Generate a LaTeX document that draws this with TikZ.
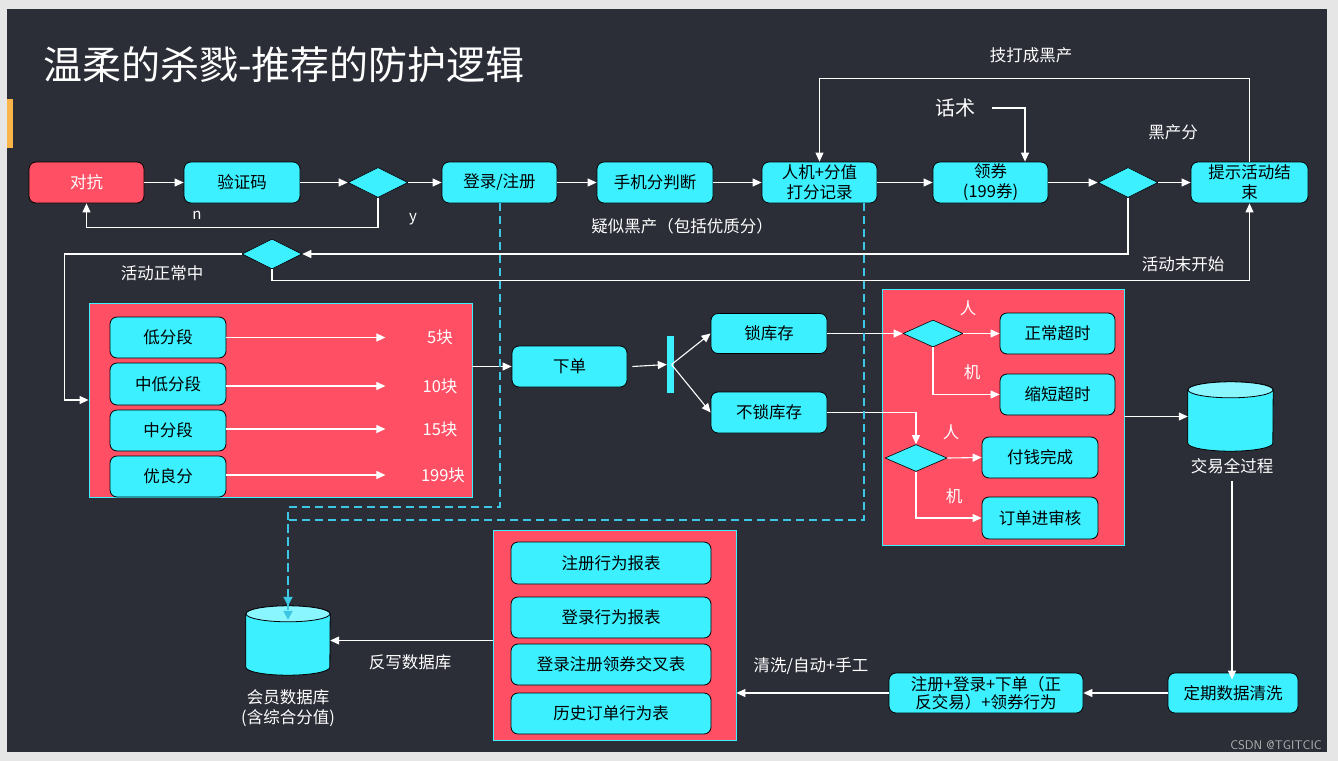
\documentclass[tikz,border=0pt]{standalone}
\usepackage{fontspec}
\setmainfont{Noto Sans CJK SC}
\usetikzlibrary{shapes.geometric,arrows.meta,calc}
\definecolor{bgd}{HTML}{2B2D37}
\definecolor{outer}{HTML}{E6E6E6}
\definecolor{cy}{HTML}{3CF0FF}
\definecolor{cylt}{HTML}{8AF6FF}
\definecolor{rd}{HTML}{FF4F64}
\definecolor{dashc}{HTML}{3CC8E4}
\definecolor{tab}{HTML}{F9B44A}
\newcommand\cylshape[2]{%
 \draw[black, line width=0.8pt, fill=cy] ([yshift=-8pt]#1.north west) -- ([yshift=8pt]#1.south west) arc[start angle=180, end angle=360, x radius=#2, y radius=8pt] -- ([yshift=-8pt]#1.north east) arc[start angle=0, end angle=180, x radius=#2, y radius=8pt] -- cycle;
 \draw[black, line width=0.8pt, fill=cylt] ([yshift=-8pt]#1.north) ellipse [x radius=#2, y radius=8pt];
}
\tikzset{
 box/.style={draw=black, line width=0.8pt, fill=cy, rounded corners=7pt, inner sep=0pt, align=center, font=\fontsize{16.5}{20}\selectfont, text=black, minimum height=41pt},
 dia/.style={diamond, draw=black, line width=0.6pt, fill=cy, inner sep=0pt, minimum width=60pt, minimum height=30pt},
 rbox/.style={draw=cy, line width=0.8pt, fill=rd, inner sep=0pt},
 lbl/.style={text=white, font=\fontsize{16.5}{20}\selectfont, inner sep=0pt, align=center},
 arr/.style={draw=white, line width=1.1pt, -{Triangle[length=9pt,width=8pt]}},
 dsh/.style={draw=dashc, line width=2pt, dash pattern=on 8pt off 5pt, -{Triangle[length=9pt,width=9pt]}},
}
\begin{document}
\begin{tikzpicture}[x=1pt,y=-1pt]
\fill[outer] (0,0) rectangle (1338,761);
\fill[bgd] (7,9) rectangle (1327,752);
\fill[tab] (7,99) rectangle (13,148);
\useasboundingbox (0,0) rectangle (1338,761);

\node[anchor=west, text=white, font=\fontsize{39}{45}\selectfont, inner sep=0pt] (title) at (43,65) {温柔的杀戮-推荐的防护逻辑};

% row 1
\node[box, fill=rd, text=white, minimum width=115pt] (dk) at (86.5,182.5) {对抗};
\node[box, minimum width=116pt] (yzm) at (242,182.5) {验证码};
\node[dia] (d1) at (378,182.5) {};
\node[box, minimum width=115pt] (dl) at (499.5,182.5) {登录/注册};
\node[box, minimum width=116pt] (sj) at (655,182.5) {手机分判断};
\node[box, minimum width=115pt] (rj) at (819.5,182.5) {人机+分值\\打分记录};
\node[box, minimum width=115pt] (lq) at (990.5,182.5) {领券\\(199券)};
\node[dia] (d2) at (1128,182.5) {};
\node[box, minimum width=117pt] (ts) at (1249.5,182.5) {提示活动结\\束};
\node[dia] (d3) at (272,254) {};

\draw[arr] (dk) -- (yzm);
\draw[arr] (yzm) -- (d1);
\draw[arr] (d1) -- (dl);
\draw[arr] (dl) -- (sj);
\draw[arr] (sj) -- (rj);
\draw[arr] (rj) -- (lq);
\draw[arr] (lq) -- (d2);
\draw[arr] (d2) -- (ts);
\draw[arr] (d1.south) -- ++(0,30) -| (dk.south);
\draw[arr] (ts.north) -- ++(0,-83) -| (rj.north);
\draw[arr] (d2.south) |- (d3.east);
\draw[arr] (d3.south) -- ++(0,11) -| (ts.south);

\node[lbl, font=\fontsize{15}{18}\selectfont] (ln) at (197,215) {n};
\node[lbl, font=\fontsize{15}{18}\selectfont] (ly) at (413,219) {y};
\node[lbl] (lysh) at (682,226) {疑似黑产（包括优质分）};
\node[lbl] (ljd) at (1031,55) {技打成黑产};
\node[lbl, font=\fontsize{20}{24}\selectfont] (hs) at (955,108) {话术};
\node[lbl] (lhc) at (1173,132) {黑产分};
\node[lbl] (lzc) at (162,273) {活动正常中};
\node[lbl] (lwk) at (1183,264) {活动末开始};
\draw[arr] ([xshift=17pt]hs.east) -| ([xshift=34.5pt]lq.north);

% red box 1
\node[rbox, minimum width=383pt, minimum height=194pt] (rb1) at (280.5,400) {};
\node[box, minimum width=116pt] (b1) at (168,337.5) {低分段};
\node[box, minimum width=116pt, minimum height=42pt] (b2) at (168,384) {中低分段};
\node[box, minimum width=116pt] (b3) at (168,430.5) {中分段};
\node[box, minimum width=116pt] (b4) at (168,476.5) {优良分};
\node[lbl] (v1) at (440,337) {5块};
\node[lbl] (v2) at (440,386) {10块};
\node[lbl] (v3) at (440,429) {15块};
\node[lbl] (v4) at (443,475) {199块};
\draw[arr] (b1.east) -- ++(159,0);
\draw[arr] (b2.east |- v2) -- ++(159,0);
\draw[arr] (b3.east |- v3) -- ++(159,0);
\draw[arr] (b4.east |- v4) -- ++(159,0);
\draw[arr] (d3.west) -- ++(-177,0) |- (rb1.west);

% order
\node[box, minimum width=115pt] (xd) at (569.5,366.5) {下单};
\node[fill=cy, inner sep=0pt, minimum width=7pt, minimum height=57pt] (bar) at (670.5,364.5) {};
\node[box, minimum width=116pt, minimum height=40pt] (sk) at (769,333.5) {锁库存};
\node[box, minimum width=116pt] (bsk) at (769,412.5) {不锁库存};
\draw[arr] (rb1.east |- xd.west) -- (xd.west);
\draw[arr] ([xshift=5pt]xd.east) -- (bar.west);
\draw[arr] ([xshift=1pt]bar.center) -- (sk.west);
\draw[arr] ([xshift=1pt]bar.center) -- (bsk.west);

% red box 2
\node[rbox, minimum width=242pt, minimum height=256pt] (rb2) at (1003,417) {};
\node[dia, minimum height=27pt] (d4) at (933,333.5) {};
\node[box, minimum width=115pt] (zc) at (1057.5,333.5) {正常超时};
\node[box, minimum width=115pt] (ss) at (1057.5,394.5) {缩短超时};
\node[dia, minimum width=62pt, minimum height=27pt] (d5) at (916,458) {};
\node[box, minimum width=116pt] (fq) at (1040,457.5) {付钱完成};
\node[box, minimum width=116pt, minimum height=42pt] (dd) at (1040,518) {订单进审核};
\node[lbl] (r1) at (968,308) {人};
\node[lbl] (m1) at (972,372) {机};
\node[lbl] (r2) at (951,432) {人};
\node[lbl] (m2) at (954,496) {机};
\draw[arr] (sk.east) -- (d4.west);
\draw[arr] (d4.east) -- (zc.west);
\draw[arr] (d4.south) |- (ss.west);
\draw[arr] (bsk.east) -| (d5.north);
\draw[arr] (d5.east) -- (fq.west);
\draw[arr] (d5.south) |- (dd.west);

% transaction cylinder
\node[inner sep=0pt, minimum width=85pt, minimum height=69pt] (jy) at (1230.5,416.5) {};
\cylshape{jy}{42.5pt}
\node[lbl] (jyl) at (1232,466) {交易全过程};
\draw[arr] (rb2.east |- jy.west) -- (jy.west);

% bottom row
\node[box, minimum width=130pt, minimum height=40pt] (dq) at (1233,693) {定期数据清洗};
\node[box, minimum width=194pt, minimum height=40pt, font=\fontsize{16.5}{18}\selectfont] (zd) at (986,693) {注册+登录+下单（正\\反交易）+领券行为};
\draw[arr] ([yshift=-7pt]jyl.south) -- ([yshift=-7pt]jyl.south |- dq.north);
\draw[arr] (dq.west) -- (zd.east);

% red box 3
\node[rbox, minimum width=243pt, minimum height=210pt] (rb3) at (614.5,635) {};
\node[box, minimum width=200pt, minimum height=42pt] (t1) at (611,563) {注册行为报表};
\node[box, minimum width=200pt] (t2) at (611,617.5) {登录行为报表};
\node[box, minimum width=200pt] (t3) at (611,664.5) {登录注册领券交叉表};
\node[box, minimum width=200pt] (t4) at (611,713.5) {历史订单行为表};
\node[lbl] (lqx) at (811,666) {清洗/自动+手工};
\draw[arr] (zd.west) -- (zd.west -| rb3.east);

% member db
\node[inner sep=0pt, minimum width=84pt, minimum height=69pt] (hy) at (288,640.5) {};
\cylshape{hy}{42pt}
\node[lbl] (hyl) at (288,708) {会员数据库\\(含综合分值)};
\node[lbl] (lfx) at (410,662) {反写数据库};
\draw[arr] (rb3.west |- hy.east) -- (hy.east);

% dashed
\draw[dsh] (dl.south) -- ++(0,304) -| (hy.north);
\draw[dsh] ([xshift=44.5pt]rj.south) -- ++(0,317) -| ([yshift=-14pt]hy.north);

\node[text=gray!60, font=\sffamily\fontsize{12.5}{14}\selectfont, inner sep=0pt] (wm) at (1276,745) {CSDN @TGITCIC};
\end{tikzpicture}
\end{document}
